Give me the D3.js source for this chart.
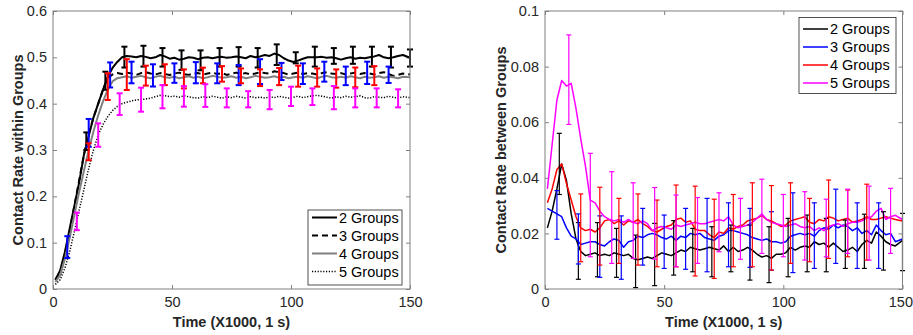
<!DOCTYPE html>
<html><head><meta charset="utf-8">
<script src="https://cdn.jsdelivr.net/npm/d3@7"></script>
<style>
body{margin:0;background:#fff}
svg{display:block}
text{font-family:"Liberation Sans",Arial,Helvetica,sans-serif}
</style>
</head><body>
<svg id="c" width="913" height="335"></svg>
<script>
// ---------- DATA ----------
const seriesNames = ["2 Groups","3 Groups","4 Groups","5 Groups"];
const xTicks = [0,50,100,150];
const yTicksWithin = [0,0.1,0.2,0.3,0.4,0.5,0.6];
const yTickLabelsWithin = ["0","0.1","0.2","0.3","0.4","0.5","0.6"];
const yTicksBetween = [0,0.02,0.04,0.06,0.08,0.1];
const yTickLabelsBetween = ["0","0.02","0.04","0.06","0.08","0.1"];

const T = [1,3,5,7,9,11,13,15,17,19,21,23,25,27,29,
  31,33,35,37,39,41,43,45,47,49,51,53,55,57,59,
  61,63,65,67,69,71,73,75,77,79,81,83,85,87,89,
  91,93,95,97,99,101,103,105,107,109,111,113,115,117,119,
  121,123,125,127,129,131,133,135,137,139,141,143,145,147,150];

// Contact rate within groups
const within2 = [0.02,0.04,0.08,0.13,0.18,0.23,0.29,0.33,0.37,0.40,0.43,0.458,0.477,0.49,0.50,
  0.503,0.502,0.50,0.503,0.501,0.498,0.50,0.505,0.502,0.497,0.499,0.495,0.497,0.50,0.499,
  0.496,0.499,0.50,0.498,0.50,0.501,0.499,0.50,0.502,0.50,0.498,0.503,0.50,0.502,0.505,
  0.503,0.508,0.505,0.498,0.493,0.49,0.493,0.497,0.50,0.50,0.50,0.501,0.499,0.50,0.498,
  0.495,0.498,0.50,0.497,0.499,0.498,0.50,0.502,0.505,0.50,0.498,0.50,0.503,0.505,0.499];
const within3 = [0.02,0.035,0.075,0.125,0.18,0.235,0.29,0.335,0.37,0.40,0.43,0.455,0.463,0.466,0.464,
  0.467,0.465,0.462,0.466,0.468,0.465,0.463,0.466,0.464,0.462,0.465,0.467,0.464,0.462,0.465,
  0.466,0.463,0.465,0.467,0.464,0.466,0.462,0.465,0.467,0.464,0.466,0.463,0.465,0.468,0.466,
  0.465,0.47,0.468,0.466,0.463,0.465,0.467,0.464,0.466,0.465,0.463,0.466,0.468,0.465,0.464,
  0.466,0.463,0.465,0.467,0.464,0.466,0.465,0.463,0.466,0.468,0.464,0.46,0.462,0.465,0.463];
const within4 = [0.015,0.03,0.065,0.11,0.16,0.21,0.255,0.30,0.34,0.375,0.405,0.43,0.448,0.455,0.457,
  0.459,0.456,0.458,0.46,0.457,0.455,0.458,0.46,0.457,0.456,0.458,0.455,0.457,0.459,0.456,
  0.458,0.455,0.457,0.46,0.458,0.456,0.457,0.459,0.456,0.458,0.455,0.457,0.46,0.458,0.456,
  0.457,0.459,0.456,0.458,0.455,0.457,0.458,0.456,0.459,0.457,0.455,0.458,0.46,0.457,0.456,
  0.458,0.456,0.459,0.457,0.455,0.458,0.456,0.457,0.459,0.456,0.458,0.457,0.455,0.458,0.457];
const within5 = [0.01,0.02,0.045,0.08,0.125,0.17,0.215,0.26,0.30,0.333,0.355,0.372,0.385,0.394,0.40,
  0.403,0.406,0.408,0.409,0.41,0.412,0.415,0.418,0.417,0.415,0.416,0.414,0.417,0.415,0.413,
  0.412,0.415,0.413,0.416,0.414,0.412,0.415,0.413,0.416,0.414,0.412,0.415,0.413,0.414,0.412,
  0.415,0.413,0.416,0.414,0.412,0.414,0.416,0.413,0.415,0.417,0.418,0.416,0.414,0.412,0.415,
  0.413,0.416,0.414,0.415,0.417,0.413,0.412,0.415,0.414,0.413,0.416,0.414,0.412,0.415,0.413];

// Error bars, within groups
const w2ErrT  = [14,22,30,38,46,54,62,70,78,86,94,102,110,118,126,134,142,150];
const w2ErrLo = [0.30,0.43,0.478,0.48,0.48,0.473,0.472,0.48,0.48,0.478,0.4835,0.487,0.48,0.486,0.486,0.48,0.478,0.48];
const w2ErrHi = [0.338,0.469,0.523,0.525,0.52,0.515,0.515,0.52,0.522,0.52,0.528,0.511,0.523,0.52,0.523,0.523,0.523,0.517];
const w3ErrT  = [6,15,24,33,42,51,60,69,78,87,96,105,114,123,132,141];
const w3ErrLo = [0.067,0.307,0.435,0.444,0.437,0.445,0.444,0.444,0.44,0.4425,0.451,0.4425,0.4475,0.44,0.4425,0.4447];
const w3ErrHi = [0.114,0.367,0.489,0.4906,0.485,0.487,0.4897,0.487,0.4835,0.496,0.488,0.487,0.4906,0.48,0.4906,0.48];
const w4ErrT  = [15,23,31,39,47,55,63,71,79,87,95,103,111,119,127,135];
const w4ErrLo = [0.278,0.408,0.4295,0.439,0.44,0.433,0.444,0.4475,0.444,0.438,0.44,0.4367,0.4367,0.4345,0.4355,0.44];
const w4ErrHi = [0.3145,0.4655,0.496,0.482,0.485,0.474,0.4777,0.481,0.476,0.474,0.477,0.482,0.476,0.474,0.478,0.481];
const w5ErrT  = [10,19,28,37,46,55,64,73,82,91,100,109,118,127,136,145];
const w5ErrLo = [0.127,0.307,0.3756,0.3827,0.39,0.3935,0.393,0.392,0.392,0.388,0.395,0.397,0.388,0.392,0.392,0.392];
const w5ErrHi = [0.165,0.3576,0.4224,0.4345,0.44,0.438,0.442,0.433,0.427,0.4295,0.4367,0.433,0.438,0.433,0.433,0.431];

// Contact rate between groups
const between2 = [0.022,0.028,0.036,0.045,0.039,0.027,0.018,0.0135,0.012,0.0125,0.013,0.012,0.0125,0.012,0.013,
  0.0125,0.012,0.0125,0.011,0.0105,0.011,0.0115,0.011,0.012,0.013,0.0125,0.012,0.013,0.014,0.0135,
  0.015,0.0145,0.014,0.0145,0.015,0.0145,0.014,0.0155,0.0135,0.015,0.0135,0.014,0.015,0.014,0.0125,
  0.0115,0.012,0.011,0.0125,0.0125,0.013,0.015,0.014,0.015,0.0155,0.015,0.017,0.016,0.0165,0.015,
  0.0165,0.015,0.0135,0.014,0.015,0.0135,0.016,0.0175,0.0165,0.0205,0.019,0.017,0.016,0.0155,0.0175];
const between3 = [0.029,0.028,0.027,0.026,0.022,0.019,0.018,0.016,0.0165,0.017,0.017,0.016,0.0155,0.017,0.018,
  0.0175,0.015,0.017,0.0175,0.019,0.0185,0.0195,0.02,0.0195,0.0185,0.018,0.019,0.0175,0.019,0.0185,
  0.02,0.0195,0.02,0.0185,0.018,0.0175,0.019,0.0195,0.021,0.021,0.0205,0.02,0.0195,0.0185,0.018,
  0.0175,0.018,0.017,0.017,0.0165,0.017,0.019,0.0195,0.02,0.0195,0.02,0.019,0.021,0.022,0.0215,
  0.023,0.022,0.023,0.0225,0.021,0.022,0.02,0.021,0.0195,0.023,0.021,0.0195,0.02,0.017,0.018];
const between4 = [0.031,0.036,0.043,0.045,0.038,0.032,0.026,0.022,0.021,0.0215,0.0205,0.022,0.0245,0.025,0.0235,
  0.0245,0.023,0.0245,0.024,0.025,0.0235,0.0225,0.021,0.0205,0.0215,0.0225,0.023,0.025,0.0255,0.024,
  0.0245,0.0215,0.021,0.021,0.0195,0.0185,0.0205,0.02,0.022,0.0215,0.0225,0.023,0.0245,0.025,0.0255,
  0.0265,0.025,0.0245,0.0235,0.0225,0.023,0.0245,0.025,0.0255,0.026,0.024,0.0235,0.025,0.0245,0.026,
  0.0255,0.0245,0.025,0.0255,0.024,0.0245,0.025,0.026,0.025,0.025,0.0255,0.026,0.0255,0.025,0.0245];
const between5 = [0.036,0.052,0.068,0.075,0.073,0.074,0.065,0.054,0.044,0.032,0.031,0.028,0.026,0.025,0.0245,
  0.025,0.024,0.025,0.024,0.0235,0.0245,0.0235,0.021,0.022,0.0225,0.022,0.0215,0.023,0.0225,0.023,
  0.0235,0.024,0.0235,0.0235,0.024,0.0245,0.025,0.0245,0.026,0.023,0.022,0.0225,0.023,0.024,0.0255,
  0.027,0.025,0.024,0.0235,0.023,0.0225,0.023,0.0235,0.0225,0.022,0.0225,0.021,0.022,0.021,0.0225,
  0.023,0.0235,0.0225,0.0235,0.024,0.024,0.0245,0.0255,0.026,0.028,0.029,0.025,0.026,0.0265,0.025];

// Error bars, between groups
const b2ErrT  = [6,14,22,30,38,46,54,62,70,78,86,94,102,110,118,126,134,142,150];
const b2ErrLo = [0.034,0.0035,0.0044,0.0042,0.0005,0.0012,0.005,0.0062,0.0044,0.0062,0.0032,0.0023,0.0044,0.0062,0.0062,0.0074,0.0074,0.0068,0.0066];
const b2ErrHi = [0.056,0.0239,0.0239,0.0218,0.0194,0.0236,0.0246,0.0218,0.0224,0.023,0.023,0.0224,0.0254,0.0266,0.0254,0.0248,0.0269,0.0278,0.0272];
const b3ErrT  = [5,14,23,32,41,50,59,68,77,86,95,104,113,122,131,140];
const b3ErrLo = [0.0179,0.009,0.0042,0.0035,0.0086,0.0074,0.0071,0.0062,0.008,0.0078,0.0068,0.0059,0.0074,0.0092,0.0074,0.0074];
const b3ErrHi = [0.0354,0.027,0.0263,0.0263,0.029,0.0266,0.029,0.0326,0.031,0.029,0.0278,0.0346,0.031,0.0359,0.031,0.031];
const b4ErrT  = [15,23,31,39,47,55,63,71,79,87,95,103,111,119,127,135];
const b4ErrLo = [0.0098,0.0086,0.0092,0.0086,0.008,0.008,0.0047,0.0038,0.008,0.008,0.0068,0.0092,0.0098,0.011,0.0116,0.0104];
const b4ErrHi = [0.0342,0.0366,0.0326,0.0342,0.032,0.0374,0.037,0.0323,0.034,0.0382,0.0372,0.0382,0.0326,0.0392,0.0356,0.0377];
const b5ErrT  = [10,19,28,37,46,55,64,73,82,91,100,109,118,127,136,145];
const b5ErrLo = [0.0592,0.0116,0.0092,0.011,0.0107,0.008,0.0092,0.0134,0.0107,0.0128,0.0116,0.0104,0.0116,0.0128,0.0104,0.0128];
const b5ErrHi = [0.0914,0.0488,0.0422,0.0382,0.0365,0.0338,0.0329,0.0346,0.0326,0.0395,0.034,0.035,0.0323,0.0359,0.037,0.0362];

// ---------- DRAW ----------
const svg = d3.select("#c");
const AX = "#808080", TXT = "#262626", FS = "14.5px";

function panel(cfg) {
  const x = d3.scaleLinear().domain([0,150]).range([cfg.left, cfg.right]);
  const y = d3.scaleLinear().domain(cfg.yDomain).range([cfg.bottom, cfg.top]);
  const g = svg.append("g");

  const ax = (sel, axis) => {
    sel.call(axis);
    sel.select(".domain").remove();
    sel.selectAll(".tick line").attr("stroke", AX);
    sel.selectAll(".tick text").attr("fill", TXT).style("font-size", FS);
  };
  const xb = g.append("g").attr("transform", `translate(0,${cfg.bottom})`);
  ax(xb, d3.axisBottom(x).tickValues(xTicks).tickFormat(d3.format("d")).tickSizeInner(-4).tickSizeOuter(0).tickPadding(8));
  if (cfg.lastAnchorEnd) {
    // keep the last tick label inside the page, like the reference
    xb.selectAll(".tick text").filter(d => d === 150).attr("text-anchor","end").attr("dx", 10);
  }
  ax(g.append("g").attr("transform", `translate(0,${cfg.top})`),
     d3.axisTop(x).tickValues(xTicks).tickFormat("").tickSizeInner(-4).tickSizeOuter(0));
  ax(g.append("g").attr("transform", `translate(${cfg.left},0)`),
     d3.axisLeft(y).tickValues(cfg.yTicks).tickFormat((d,i) => cfg.yLabels[i]).tickSizeInner(-4).tickSizeOuter(0).tickPadding(6));
  ax(g.append("g").attr("transform", `translate(${cfg.right},0)`),
     d3.axisRight(y).tickValues(cfg.yTicks).tickFormat("").tickSizeInner(-4).tickSizeOuter(0));

  const line = d3.line().x(d => x(d[0])).y(d => y(d[1]));
  cfg.series.forEach(s => {
    g.append("path").datum(T.map((t,i) => [t, s.values[i]]))
      .attr("d", line).attr("fill","none")
      .attr("stroke", s.color).attr("stroke-width", s.width)
      .attr("stroke-dasharray", s.dash || null)
      .attr("stroke-linejoin","round");
  });

  cfg.errors.forEach(e => {
    const eg = g.append("g").attr("stroke", e.color).attr("stroke-width", cfg.errW).attr("fill","none");
    e.t.forEach((t,i) => {
      const xx = x(t), y0 = y(e.lo[i]), y1 = y(e.hi[i]);
      eg.append("line").attr("x1",xx).attr("x2",xx).attr("y1",y0).attr("y2",y1);
      eg.append("line").attr("x1",xx-cfg.cap).attr("x2",xx+cfg.cap).attr("y1",y0).attr("y2",y0);
      eg.append("line").attr("x1",xx-cfg.cap).attr("x2",xx+cfg.cap).attr("y1",y1).attr("y2",y1);
    });
  });

  g.append("rect").attr("x",cfg.left).attr("y",cfg.top)
    .attr("width",cfg.right-cfg.left).attr("height",cfg.bottom-cfg.top)
    .attr("fill","none").attr("stroke",AX).attr("stroke-width",1);

  g.append("text").attr("x",(cfg.left+cfg.right)/2).attr("y",327)
    .attr("text-anchor","middle").attr("font-weight","bold").style("font-size",FS).attr("fill",TXT)
    .text("Time (X1000, 1 s)");
  g.append("text").attr("transform",`translate(${cfg.yTitleX},${(cfg.top+cfg.bottom)/2}) rotate(-90)`)
    .attr("text-anchor","middle").attr("font-weight","bold").style("font-size",FS).attr("fill",TXT)
    .text(cfg.yTitle);

  const L = cfg.legend;
  const lg = g.append("g");
  lg.append("rect").attr("x",L.x).attr("y",L.y).attr("width",L.w).attr("height",L.h)
    .attr("fill","#fff").attr("stroke",TXT).attr("stroke-width",0.8);
  cfg.series.forEach((s,i) => {
    const yy = L.y + L.first + i*L.step;
    lg.append("line").attr("x1",L.x+4).attr("x2",L.x+29).attr("y1",yy).attr("y2",yy)
      .attr("stroke",s.color).attr("stroke-width",s.width).attr("stroke-dasharray",s.dash||null);
    lg.append("text").attr("x",L.x+31).attr("y",yy+5).style("font-size",FS).attr("fill","#000")
      .text(seriesNames[i]);
  });
}

panel({
  left:53, right:410, top:11, bottom:289, yTitleX:23,
  yDomain:[0,0.6], yTicks:yTicksWithin, yLabels:yTickLabelsWithin,
  yTitle:"Contact Rate within Groups",
  series:[
    {values:within2, color:"#000", width:2},
    {values:within3, color:"#000", width:2, dash:"6,4"},
    {values:within4, color:"#808080", width:2},
    {values:within5, color:"#000", width:1.5, dash:"1.2,1.6"}
  ],
  errors:[
    {t:w2ErrT, lo:w2ErrLo, hi:w2ErrHi, color:"#000"},
    {t:w3ErrT, lo:w3ErrLo, hi:w3ErrHi, color:"#0000ff"},
    {t:w4ErrT, lo:w4ErrLo, hi:w4ErrHi, color:"#ff0000"},
    {t:w5ErrT, lo:w5ErrLo, hi:w5ErrHi, color:"#ff00ff"}
  ],
  errW:2, cap:3,
  legend:{x:308, y:210, w:94, h:75, first:7.5, step:18}
});

panel({
  left:545, right:902.5, top:11, bottom:289, yTitleX:506, lastAnchorEnd:true,
  yDomain:[0,0.1], yTicks:yTicksBetween, yLabels:yTickLabelsBetween,
  yTitle:"Contact Rate between Groups",
  series:[
    {values:between2, color:"#000", width:1.5},
    {values:between3, color:"#0000ff", width:1.5},
    {values:between4, color:"#ff0000", width:1.5},
    {values:between5, color:"#ff00ff", width:1.5}
  ],
  errors:[
    {t:b2ErrT, lo:b2ErrLo, hi:b2ErrHi, color:"#000"},
    {t:b3ErrT, lo:b3ErrLo, hi:b3ErrHi, color:"#0000ff"},
    {t:b4ErrT, lo:b4ErrLo, hi:b4ErrHi, color:"#ff0000"},
    {t:b5ErrT, lo:b5ErrLo, hi:b5ErrHi, color:"#ff00ff"}
  ],
  errW:1.2, cap:2.5,
  legend:{x:799, y:17.5, w:97, h:76, first:11.5, step:18}
});
</script>
</body></html>
